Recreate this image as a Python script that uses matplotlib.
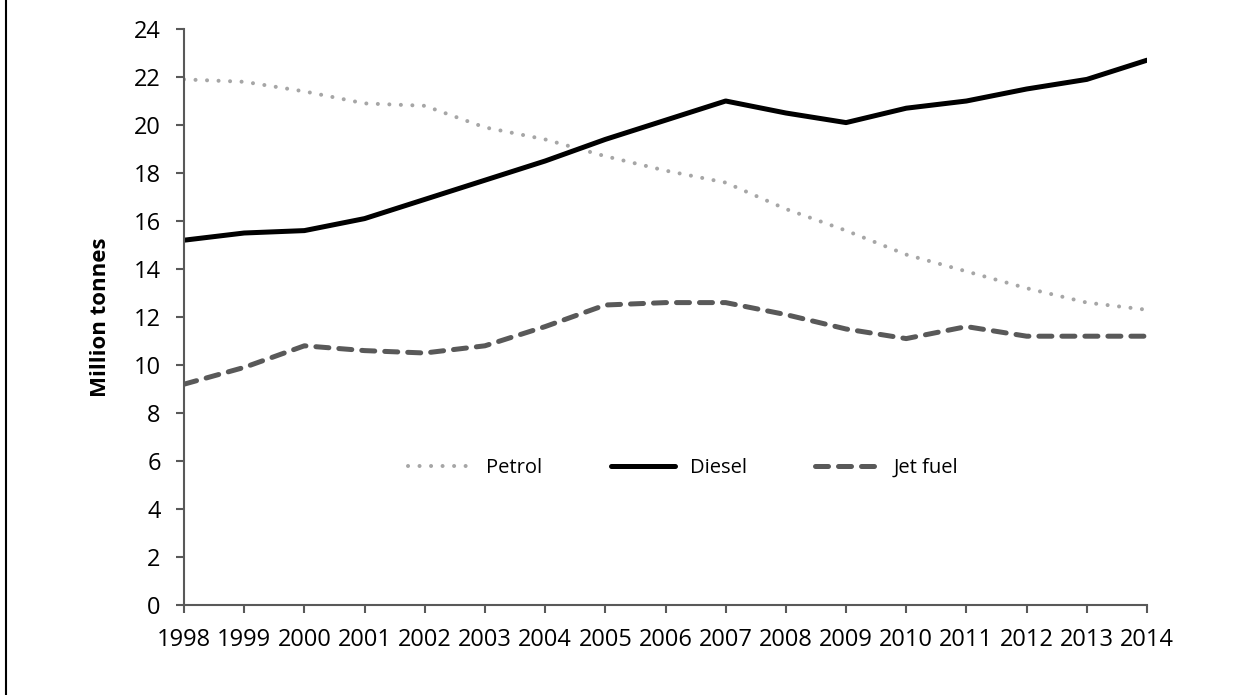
import matplotlib.pyplot as plt
from matplotlib.lines import Line2D

years = list(range(1998, 2015))
petrol = [21.9, 21.8, 21.4, 20.9, 20.8, 19.9, 19.4, 18.7, 18.1, 17.6, 16.5, 15.6, 14.6, 13.9, 13.2, 12.6, 12.3]
diesel = [15.2, 15.5, 15.6, 16.1, 16.9, 17.7, 18.5, 19.4, 20.2, 21.0, 20.5, 20.1, 20.7, 21.0, 21.5, 21.9, 22.7]
jet_fuel = [9.2, 9.9, 10.8, 10.6, 10.5, 10.8, 11.6, 12.5, 12.6, 12.6, 12.1, 11.5, 11.1, 11.6, 11.2, 11.2, 11.2]

plt.rcParams['font.family'] = ['Open Sans', 'DejaVu Sans']

W, H = 1260, 695
fig = plt.figure(figsize=(W / 100, H / 100), dpi=100)
# plot area in pixels: x 184..1147, y 29..605
ax = fig.add_axes([184 / W, 1 - 605 / H, (1147 - 184) / W, (605 - 29) / H])

# petrol: round dots, light grey
ax.plot(years, petrol, color='#a6a6a6', lw=2.9, linestyle=(0, (0.01, 2.85)),
        dash_capstyle='round', solid_joinstyle='round', label='Petrol')
ax.plot(years, diesel, color='black', lw=3.6, solid_capstyle='round',
        solid_joinstyle='round', label='Diesel')
ax.plot(years, jet_fuel, color='#595959', lw=3.6, linestyle=(0, (2.6, 2.0)),
        dash_capstyle='round', dash_joinstyle='round', label='Jet fuel')

ax.set_xlim(1998, 2014)
ax.set_ylim(0, 24)
ax.set_xticks(years)
ax.set_yticks(range(0, 25, 2))
ax.tick_params(axis='both', colors='#595959', labelcolor='black', labelsize=17, width=1.5)
ax.tick_params(axis='x', length=5.5, pad=11)
ax.tick_params(axis='y', length=5.8, pad=11)
for s in ['top', 'right']:
    ax.spines[s].set_visible(False)
for s in ['left', 'bottom']:
    ax.spines[s].set_color('#595959')
    ax.spines[s].set_linewidth(1.5)

ax.set_ylabel('Million tonnes', fontsize=16, fontweight='bold', labelpad=16)

leg = ax.legend(loc='center', bbox_to_anchor=((683 - 184) / 963, (605 - 468) / 576), ncol=3,
                frameon=False, fontsize=14.5, handlelength=3.2, columnspacing=3.4,
                handletextpad=0.7)

# thin border line down the left edge of the picture
fig.add_artist(Line2D([6 / W, 6 / W], [0, 1], color='black', lw=1.5))

fig.savefig('out.png', dpi=100, facecolor='white')
